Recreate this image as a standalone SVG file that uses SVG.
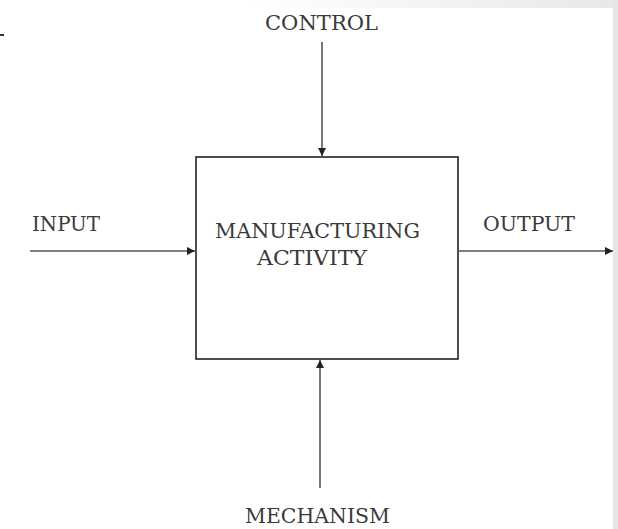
<svg xmlns="http://www.w3.org/2000/svg" width="618" height="529" viewBox="0 0 618 529">
<defs>
<linearGradient id="topg" x1="0" y1="0" x2="1" y2="0">
<stop offset="0.4" stop-color="#ffffff"/>
<stop offset="1" stop-color="#e8e8e8"/>
</linearGradient>
<marker id="ah" viewBox="0 0 10 10" refX="10" refY="5" markerWidth="8" markerHeight="8" markerUnits="userSpaceOnUse" orient="auto">
<path d="M0,0 L10,5 L0,10 z" fill="#222"/>
</marker>
<style>
.lbl{font-family:"DejaVu Serif","Liberation Serif",serif;font-size:21px;fill:#3a3a3a;}
.ln{stroke:#555;stroke-width:1.6;fill:none;marker-end:url(#ah);}
.box{fill:#fff;stroke:#222;stroke-width:1.6;}
</style>
</defs>
<rect x="0" y="0" width="618" height="529" fill="#fff"/>
<rect x="0" y="0" width="618" height="8" fill="url(#topg)"/>
<rect x="613" y="0" width="5" height="529" fill="#e6e6e6"/>
<line x1="0" y1="35" x2="4" y2="35" stroke="#333" stroke-width="2"/>
<g id="activity">
<rect class="box" x="196" y="157" width="262" height="202"/>
<text class="lbl" x="215" y="238" textLength="205" lengthAdjust="spacingAndGlyphs">MANUFACTURING</text>
<text class="lbl" x="257" y="265" textLength="110" lengthAdjust="spacingAndGlyphs">ACTIVITY</text>
</g>
<g id="control"><text class="lbl" x="265" y="30" textLength="113" lengthAdjust="spacingAndGlyphs">CONTROL</text></g>
<g id="input"><text class="lbl" x="32" y="231" textLength="68" lengthAdjust="spacingAndGlyphs">INPUT</text></g>
<g id="output"><text class="lbl" x="483" y="231" textLength="92" lengthAdjust="spacingAndGlyphs">OUTPUT</text></g>
<g id="mechanism"><text class="lbl" x="245" y="523" textLength="145" lengthAdjust="spacingAndGlyphs">MECHANISM</text></g>
<g id="connectors">
<line class="ln" x1="322" y1="42" x2="322" y2="156"/>
<line class="ln" x1="30" y1="251" x2="195" y2="251"/>
<line class="ln" x1="458" y1="251" x2="613" y2="251"/>
<line class="ln" x1="320" y1="488" x2="320" y2="360"/>
</g>
</svg>
